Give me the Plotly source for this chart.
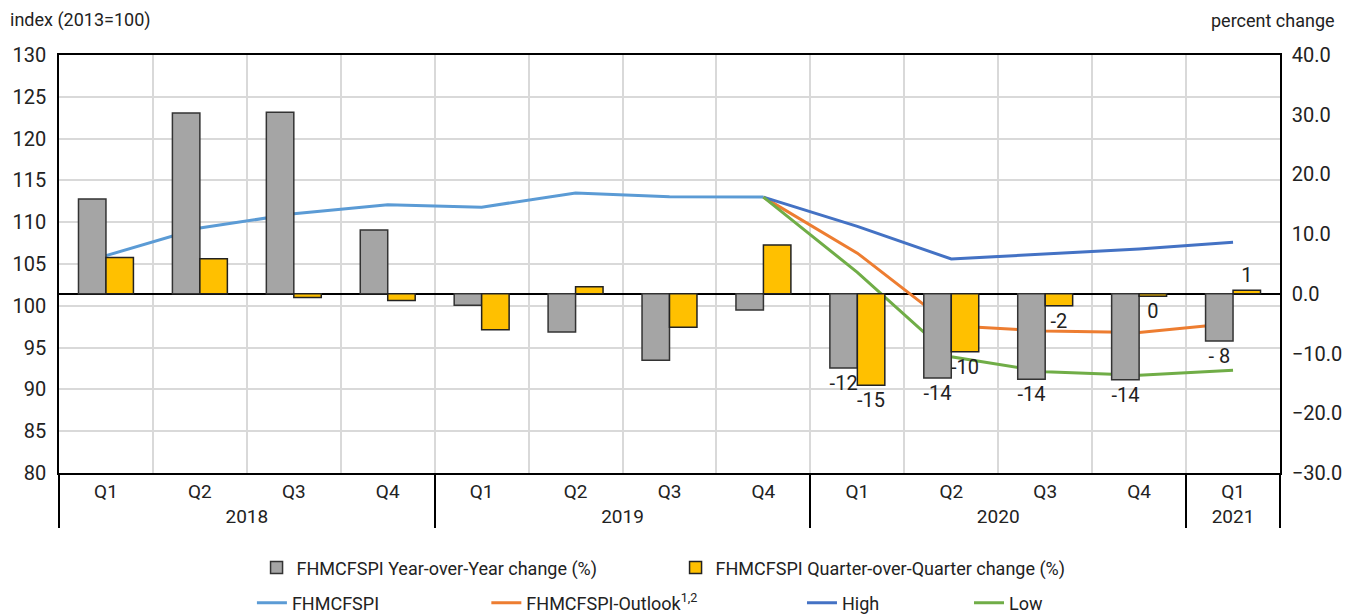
import plotly.graph_objects as go

years = ["2018"] * 4 + ["2019"] * 4 + ["2020"] * 4 + ["2021"]
quarters = ["Q1", "Q2", "Q3", "Q4"] * 3 + ["Q1"]

# percent change (right axis)
yoy = [15.9, 30.3, 30.4, 10.7, -1.9, -6.4, -11.1, -2.7, -12.4, -14.1, -14.3, -14.4, -7.9]
qoq = [6.1, 5.9, -0.6, -1.1, -6.0, 1.2, -5.6, 8.2, -15.3, -9.7, -2.0, -0.4, 0.6]
yoy_labels = [""] * 8 + ["-12", "-14", "-14", "-14", "- 8"]
qoq_labels = [""] * 8 + ["-15", "-10", "-2", "0", "1"]

# index (left axis)
fhmcfspi = [106.0, 109.3, 111.0, 112.1, 111.8, 113.5, 113.05, 113.0, None, None, None, None, None]
outlook = [None] * 7 + [113.0, 106.3, 97.6, 97.0, 96.8, 97.9]
high = [None] * 7 + [113.0, 109.5, 105.6, 106.2, 106.8, 107.6]
low = [None] * 7 + [113.0, 104.0, 93.9, 92.1, 91.7, 92.3]

FONT = "Roboto, Liberation Sans, sans-serif"
x = [years, quarters]

fig = go.Figure()
fig.add_trace(go.Bar(
    x=x, y=yoy, name="FHMCFSPI Year-over-Year change (%)", yaxis="y2",
    marker=dict(color="#A5A5A5", line=dict(color="#333333", width=1.5)),
    text=yoy_labels, textposition="outside", constraintext="none", cliponaxis=False,
    textfont=dict(size=20, color="#222222"), legend="legend"))
fig.add_trace(go.Bar(
    x=x, y=qoq, name="FHMCFSPI Quarter-over-Quarter change (%)", yaxis="y2",
    marker=dict(color="#FFC000", line=dict(color="#222222", width=1.5)),
    text=qoq_labels, textposition="outside", constraintext="none", cliponaxis=False,
    textfont=dict(size=20, color="#222222"), legend="legend"))

lines = [
    ("FHMCFSPI", fhmcfspi, "#5B9BD5", "legend2"),
    ("FHMCFSPI-Outlook<sup>1,2</sup>", outlook, "#ED7D31", "legend3"),
    ("High", high, "#4472C4", "legend4"),
    ("Low", low, "#70AD47", "legend5"),
]
for name, vals, col, lg in lines:
    fig.add_trace(go.Scatter(x=x, y=vals, name=name, mode="lines", yaxis="y",
                             line=dict(color=col, width=3), legend=lg))

leg = dict(orientation="h", yanchor="middle", font=dict(size=18, color="#222222"),
           bgcolor="rgba(0,0,0,0)", tracegroupgap=0)

# page body adds an 8px offset, so the figure is sized to sit inside the window
fig.update_layout(
    width=1342, height=630,
    margin=dict(l=51, r=70, t=47, b=165),
    paper_bgcolor="white", plot_bgcolor="white",
    font=dict(family=FONT, size=20, color="#222222"),
    barmode="group", bargap=0.415, bargroupgap=0,
    xaxis=dict(type="multicategory", tickson="boundaries", showgrid=True,
               gridcolor="#D9D9D9", gridwidth=1.5, showline=True, linecolor="black",
               linewidth=1.5, mirror=True, showdividers=True, dividercolor="black",
               dividerwidth=1.5, ticks="", tickfont=dict(size=19), automargin=False),
    yaxis=dict(range=[80, 130], dtick=5, showgrid=True, gridcolor="#D9D9D9",
               gridwidth=1.5, showline=True, linecolor="black", linewidth=1.5,
               zeroline=False, tickfont=dict(size=20), ticks="", ticklabelstandoff=7,
               automargin=False),
    yaxis2=dict(range=[-30, 40], dtick=10, tickformat=".1f", overlaying="y",
                side="right", showgrid=False, showline=True, linecolor="black",
                linewidth=1.5, zeroline=True, zerolinecolor="black", zerolinewidth=1.5,
                tickfont=dict(size=20), ticks="", ticklabelstandoff=6, automargin=False),
    legend=dict(leg, x=0.1618, y=-0.227, entrywidth=374),
    legend2=dict(leg, x=0.158, y=-0.311),
    legend3=dict(leg, x=0.350, y=-0.311),
    legend4=dict(leg, x=0.6085, y=-0.311),
    legend5=dict(leg, x=0.7453, y=-0.311),
    annotations=[
        dict(text="index (2013=100)", xref="paper", yref="paper", x=-0.0418, y=1.0837,
             xanchor="left", yanchor="middle", showarrow=False, font=dict(size=18)),
        dict(text="percent change", xref="paper", yref="paper", x=1.0467, y=1.0837,
             xanchor="right", yanchor="middle", showarrow=False, font=dict(size=18)),
    ],
)

fig.write_html("out.html")
